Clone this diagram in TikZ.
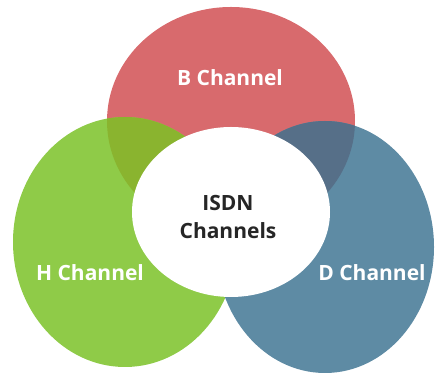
\documentclass[tikz,border=0pt]{standalone}
\usepackage{fontspec}
\setmainfont{Open Sans}
\definecolor{bred}{HTML}{D86A6D}
\definecolor{hgreen}{HTML}{8FCB48}
\definecolor{dblue}{HTML}{5E8BA4}
\definecolor{bhmix}{HTML}{8AB42F}
\definecolor{bdmix}{HTML}{566F88}
\definecolor{hdmix}{HTML}{4D8988}
\begin{document}
\begin{tikzpicture}[
    x=1pt, y=1pt,
    label/.style = {font=\fontsize{21}{28}\selectfont\bfseries, text=white, inner sep=0pt},
    core/.style  = {font=\fontsize{21}{28}\selectfont\bfseries, text=black!85, align=center, inner sep=0pt}
    ]
    \useasboundingbox (0,0) rectangle (436,374);

    % Channel sets
    \fill[bred]   (231,253) ellipse [x radius=124, y radius=114];
    \fill[hgreen] (125,132) ellipse [x radius=112, y radius=125];
    \fill[dblue]  (325,127) ellipse [x radius=109, y radius=126];

    % Overlaps
    \begin{scope}
        \clip (231,253) ellipse [x radius=124, y radius=114];
        \fill[bhmix] (125,132) ellipse [x radius=112, y radius=125];
    \end{scope}
    \begin{scope}
        \clip (231,253) ellipse [x radius=124, y radius=114];
        \fill[bdmix] (325,127) ellipse [x radius=109, y radius=126];
    \end{scope}
    \begin{scope}
        \clip (125,132) ellipse [x radius=112, y radius=125];
        \fill[hdmix] (325,127) ellipse [x radius=109, y radius=126];
    \end{scope}

    % Centre
    \fill[white] (231,162) ellipse [x radius=99, y radius=85];

    % Labels
    \node[label] (b chan) at (230,296) {B Channel};
    \node[label] (h chan) at (90,101)  {H Channel};
    \node[label] (d chan) at (372,101) {D Channel};
    \node[core]  (isdn)   at (228,157) {ISDN\\Channels};
\end{tikzpicture}
\end{document}
